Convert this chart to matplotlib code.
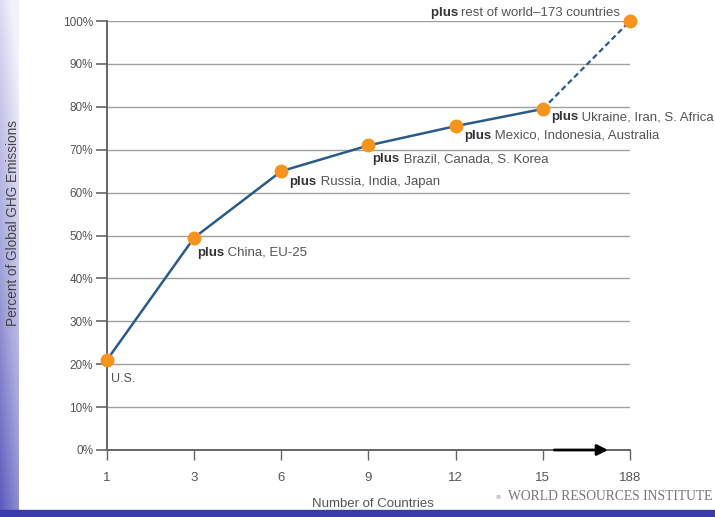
import numpy as np
import matplotlib
matplotlib.use('Agg')
from matplotlib import pyplot as plt
from matplotlib.patches import Rectangle
from matplotlib.colors import LinearSegmentedColormap

plt.rcParams['font.family'] = ['Liberation Sans Narrow', 'Liberation Sans', 'DejaVu Sans']

# cumulative share of global GHG emissions by number of countries
countries = ['1', '3', '6', '9', '12', '15', '188']
share = [21, 49.5, 65, 71, 75.5, 79.5, 100]
labels = ['U.S.', 'China, EU-25', 'Russia, India, Japan', 'Brazil, Canada, S. Korea',
          'Mexico, Indonesia, Australia', 'Ukraine, Iran, S. Africa', 'rest of world\u2013173 countries']
label_offsets = [(3, -14), (2, -11), (6, -8), (3, -10), (6, -7), (6, -6), (-7, 6)]

LINE = '#2b5b88'
DOT = '#f7941d'
GREY = '#555555'
FS = 9.5

fig = plt.figure(figsize=(7.15, 5.17), dpi=100)

# slide background: gradient strip on the left, dark band along the bottom
strip = fig.add_axes([0, 0, 19 / 715, 1], zorder=-5)
rows = np.linspace(0, 1, 200)[:, None]
cols = np.linspace(0, 1, 20)[None, :]
grad = np.clip(0.15 + 0.75 * rows - 0.25 * cols, 0, 1)
slide_cmap = LinearSegmentedColormap.from_list('slide', ['#f2f2fb', '#a8a8dc', '#4646b4'])
strip.imshow(grad, cmap=slide_cmap, aspect='auto', vmin=0, vmax=1,
             origin='upper', extent=(0, 1, 0, 1))
strip.axis('off')
fig.patches.append(Rectangle((0, 0), 1, 7 / 517, transform=fig.transFigure,
                             color='#3a3aac', zorder=-4))

ax = fig.add_axes([107 / 715, 67 / 517, 523 / 715, 429 / 517])
ax.set_facecolor('none')
x = np.arange(len(countries))

ax.plot(x[:-1], share[:-1], color=LINE, lw=1.8, zorder=3, clip_on=False)
ax.plot(x[-2:], share[-2:], color=LINE, lw=1.6, ls=(0, (2.5, 1.5)), zorder=3, clip_on=False)
ax.plot(x, share, 'o', color=DOT, ms=9, mec=DOT, zorder=4, clip_on=False)

for i, (lab, off) in enumerate(zip(labels, label_offsets)):
    if i == 0:
        ax.annotate(lab, (x[i], share[i]), xytext=off, textcoords='offset points',
                    ha='left', va='center', fontsize=FS - 0.5, color=GREY)
        continue
    if i == len(labels) - 1:
        t2 = ax.annotate(lab, (x[i], share[i]), xytext=off, textcoords='offset points',
                         ha='right', va='center', fontsize=FS, color=GREY)
        ax.annotate('plus ', (0, 0.5), xycoords=t2, ha='right', va='center',
                    fontsize=FS, fontweight='bold', color='#333333')
        continue
    t1 = ax.annotate('plus', (x[i], share[i]), xytext=off, textcoords='offset points',
                     ha='left', va='center', fontsize=FS, fontweight='bold', color='#333333')
    ax.annotate(' ' + lab, (1, 0.5), xycoords=t1, ha='left', va='center',
                fontsize=FS, color=GREY)

ax.set_xlim(0, 6)
ax.set_ylim(0, 100)
ax.set_xticks(x)
ax.set_xticklabels(countries)
ax.set_yticks(range(0, 101, 10))
ax.set_yticklabels([f'{v}%' for v in range(0, 101, 10)])
ax.yaxis.grid(True, color='#a0a0a0', lw=1)
ax.set_axisbelow(True)
ax.tick_params(axis='y', length=8, width=1.2, color='#666666', labelsize=8.5,
               labelcolor=GREY, pad=2)
ax.tick_params(axis='x', length=7, width=1, color='#666666', labelsize=9.5,
               labelcolor=GREY, pad=9)
for side in ['top', 'right']:
    ax.spines[side].set_visible(False)
for side in ['left', 'bottom']:
    ax.spines[side].set_color('#666666')
    ax.spines[side].set_linewidth(1.4)

ax.set_xlabel('Number of Countries', fontsize=FS, color=GREY)
ax.xaxis.set_label_coords(0.509, -0.112)
ax.set_ylabel('Percent of Global GHG Emissions', fontsize=FS + 0.3, color='#444444')
ax.yaxis.set_label_coords(-0.166, 0.53)

# arrow showing the jump to all countries
ax.annotate('', xy=(5.78, 0), xytext=(5.1, 0),
            arrowprops=dict(arrowstyle='-|>', color='black', lw=2, mutation_scale=16),
            annotation_clip=False)

fig.text(496 / 715, 20 / 517, '\u25a0', fontsize=6, color='#cccccc', va='center')
fig.text(508 / 715, 20 / 517, 'WORLD RESOURCES INSTITUTE', fontsize=9.8,
         family=['Liberation Serif', 'DejaVu Serif'], color='#777777', va='center')

plt.savefig('out.png', dpi=100)
